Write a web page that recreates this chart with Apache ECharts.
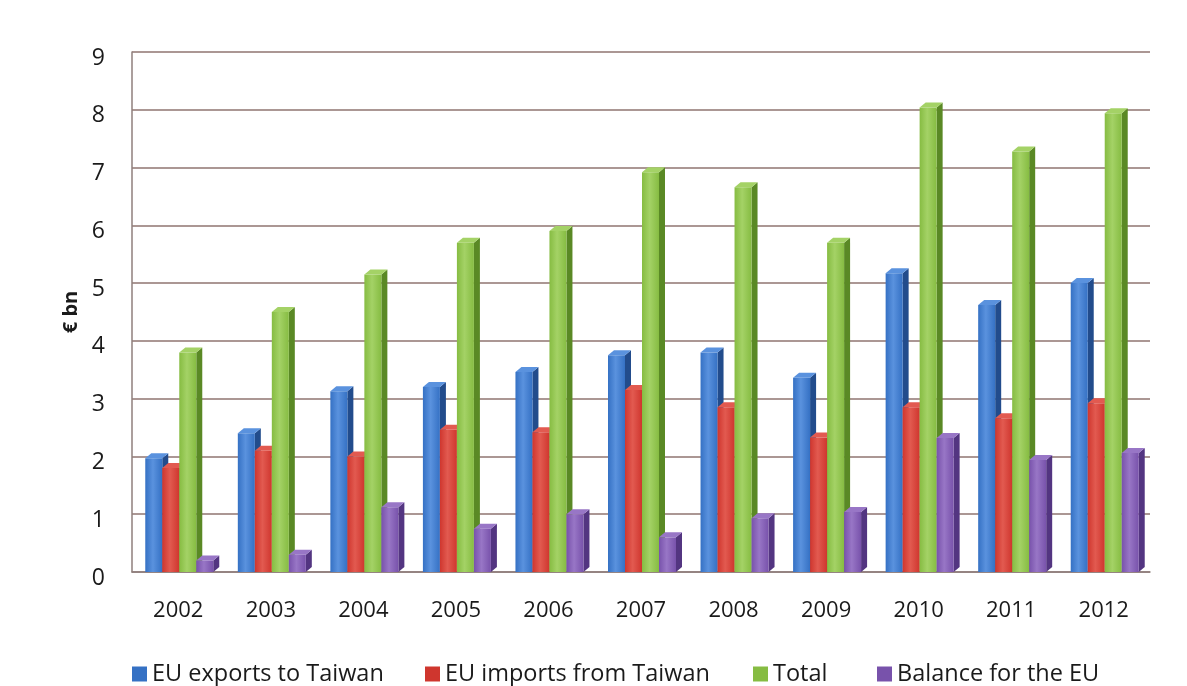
<!DOCTYPE html>
<html>
<head>
<meta charset="utf-8">
<script src="https://cdn.jsdelivr.net/npm/echarts@6/dist/echarts.min.js"></script>
<style>
  html, body { margin: 0; padding: 0; background: #ffffff; }
  #chart { width: 1187px; height: 686px; }
</style>
</head>
<body>
<div id="chart"></div>
<script>
// EU–Taiwan trade in goods, € bn
const years = ['2002', '2003', '2004', '2005', '2006', '2007', '2008', '2009', '2010', '2011', '2012'];
const exportsToTaiwan = [1.97, 2.4, 3.13, 3.2, 3.46, 3.75, 3.8, 3.36, 5.17, 4.62, 5.0];
const importsFromTaiwan = [1.8, 2.1, 2.0, 2.46, 2.42, 3.15, 2.85, 2.33, 2.85, 2.66, 2.92];
const totalTrade = [3.8, 4.5, 5.15, 5.7, 5.9, 6.92, 6.66, 5.7, 8.04, 7.28, 7.94];
const balanceForEU = [0.2, 0.3, 1.12, 0.75, 1.0, 0.6, 0.93, 1.04, 2.32, 1.94, 2.06];
const yTicks = [0, 1, 2, 3, 4, 5, 6, 7, 8, 9];

const seriesDefs = [
  { name: 'EU exports to Taiwan', data: exportsToTaiwan, color: '#3571c4', dark: '#224c8c', light: '#5a92de' },
  { name: 'EU imports from Taiwan', data: importsFromTaiwan, color: '#cf362e', dark: '#962019', light: '#e25a50' },
  { name: 'Total', data: totalTrade, color: '#86bc42', dark: '#5a8925', light: '#a4d266' },
  { name: 'Balance for the EU', data: balanceForEU, color: '#7852ab', dark: '#533581', light: '#9876c6' }
];

// left edge of each legend entry along the bottom row (legend box includes 5px padding)
const legendLefts = [127, 420, 748, 872];

const FONT = "'Open Sans', 'Noto Sans', sans-serif";
const BAR_W = 17;   // front face width
const DX = 6;       // depth offset to the right
const DY = -5;      // depth offset upwards

function makeRender(idx, def) {
  return function (params, api) {
    const cat = api.value(0);
    const val = api.value(1);
    const top = api.coord([cat, val]);
    const base = api.coord([cat, 0]);
    const x = top[0] + (idx - 2) * BAR_W + 1;
    const y0 = base[1];
    const y1 = top[1];
    return {
      type: 'group',
      children: [
        { // side face
          type: 'polygon',
          shape: { points: [[x + BAR_W, y1], [x + BAR_W + DX, y1 + DY], [x + BAR_W + DX, y0 + DY], [x + BAR_W, y0]] },
          style: { fill: def.dark }
        },
        { // front face
          type: 'rect',
          shape: { x: x, y: y1, width: BAR_W, height: y0 - y1 },
          style: {
            fill: new echarts.graphic.LinearGradient(0, 0, 1, 0, [
              { offset: 0, color: def.color },
              { offset: 0.45, color: def.light },
              { offset: 1, color: def.color }
            ])
          }
        },
        { // top face
          type: 'polygon',
          shape: { points: [[x, y1], [x + DX, y1 + DY], [x + BAR_W + DX, y1 + DY], [x + BAR_W, y1]] },
          style: { fill: def.light }
        }
      ]
    };
  };
}

const chart = echarts.init(document.getElementById('chart'));
chart.setOption({
  backgroundColor: '#ffffff',
  animation: false,
  grid: { left: 132, right: 37, top: 52, bottom: 114 },
  legend: seriesDefs.map((d, i) => ({
    top: 657,
    left: legendLefts[i],
    itemWidth: 15,
    itemHeight: 15,
    icon: 'rect',
    textStyle: { fontFamily: FONT, fontSize: 23.5, color: '#1a1a1a' },
    data: [{ name: d.name, itemStyle: { color: d.color } }]
  })),
  xAxis: {
    type: 'category',
    data: years,
    axisLine: { show: true, lineStyle: { color: '#8f7f7c', width: 1.5 } },
    axisTick: { show: false },
    axisLabel: { fontFamily: FONT, fontSize: 22, color: '#1a1a1a', margin: 28 }
  },
  yAxis: {
    type: 'value',
    min: 0,
    max: 9,
    interval: 1,
    name: '€ bn',
    nameLocation: 'middle',
    nameGap: 48,
    nameTextStyle: { fontFamily: FONT, fontSize: 20, fontWeight: 'bold', color: '#1a1a1a' },
    axisLine: { show: true, lineStyle: { color: '#8f7f7c', width: 1.5 } },
    axisTick: { show: false },
    axisLabel: {
      color: '#1a1a1a', margin: 27,
      formatter: v => (yTicks.indexOf(v) >= 0 ? '{t|' + v + '}' : ''),
      rich: { t: { fontFamily: FONT, fontSize: 23, color: '#1a1a1a', padding: [12, 0, 0, 0] } }
    },
    splitLine: { lineStyle: { color: '#8f7470', width: 1.5 } }
  },
  series: seriesDefs.map((d, i) => ({
    name: d.name,
    type: 'custom',
    itemStyle: { color: d.color },
    renderItem: makeRender(i, d),
    encode: { x: 0, y: 1 },
    data: d.data.map((v, k) => [k, v])
  }))
});
</script>
</body>
</html>
